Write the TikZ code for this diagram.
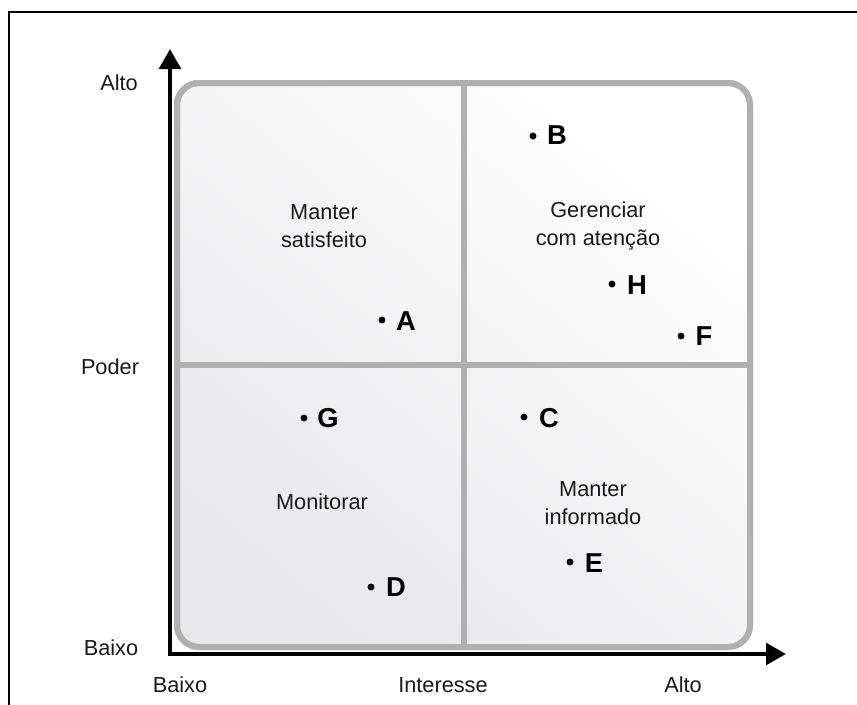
\documentclass[tikz,border=0pt]{standalone}
\usepackage{fontspec}
\setmainfont{Liberation Sans}
\usetikzlibrary{arrows.meta,calc}
\definecolor{boxgray}{RGB}{176,176,176}
\definecolor{fillgray}{RGB}{232,232,235}
\begin{document}
\begin{tikzpicture}[x=0.75pt,y=-0.75pt,
  frameline/.style={line width=1.6pt,black},
  board/.style={rectangle,rounded corners=16.5pt,draw=boxgray,line width=4.5pt,
    minimum width=429.75pt,minimum height=423pt,inner sep=0pt,
    shade,top color=white,bottom color=fillgray,shading angle=-40},
  divider/.style={draw=boxgray,line width=4.5pt},
  axis/.style={line width=3.4pt,black,line join=miter,
    {Triangle[length=15pt,width=16pt]}-{Triangle[length=15pt,width=16pt]}},
  axlabel/.style={font=\fontsize{16.3pt}{20pt}\selectfont,text=black!90,inner sep=0pt},
  quadtext/.style={font=\fontsize{16.3pt}{21pt}\selectfont,text=black!90,align=center,inner sep=0pt},
  dot/.style={circle,fill=black,inner sep=0pt,minimum size=5.2pt},
  ptletter/.style={font=\fontsize{20.5pt}{24pt}\selectfont\bfseries,inner sep=0pt}
]
\useasboundingbox (0,0) rectangle (857,704);
% outer frame
\coordinate (fb) at (9,720);
\coordinate (ftl) at (9,12);
\coordinate (fr) at (870,12);
\draw[frameline] (fb) -- (ftl) -- (fr);
% board
\node[board] (board) at (463.5,365) {};
\draw[divider] (board.north) -- (board.south);
\draw[divider] (board.west) -- (board.east);
\node[rectangle,rounded corners=16.5pt,draw=boxgray,line width=4.5pt,
  minimum width=429.75pt,minimum height=423pt,inner sep=0pt] (boardedge) at (463.5,365) {};
% axes
\coordinate (O) at (170,654);
\coordinate (ytip) at (170,49);
\coordinate (xtip) at (786,654);
\draw[axis] (ytip) -- (O) -- (xtip);
% axis labels
\node[axlabel] (yhigh) at (119,83) {Alto};
\node[axlabel] (ymid) at (110,367) {Poder};
\node[axlabel] (ylow) at (111,648) {Baixo};
\node[axlabel] (xlow) at (180,685) {Baixo};
\node[axlabel] (xmid) at (443,685) {Interesse};
\node[axlabel] (xhigh) at (683,685) {Alto};
% quadrant texts
\node[quadtext] (q1) at (324,226) {Manter\\satisfeito};
\node[quadtext] (q2) at (598,226) {Gerenciar\\com atenção};
\node[quadtext] (q3) at (322,502) {Monitorar};
\node[quadtext] (q4) at (593,503) {Manter\\informado};
% points
\node[dot] (A) at (382,320) {};
\node[ptletter] (Al) at (406,321) {A};
\node[dot] (B) at (533,136) {};
\node[ptletter] (Bl) at (557,135) {B};
\node[dot] (H) at (612,284) {};
\node[ptletter] (Hl) at (637,285) {H};
\node[dot] (F) at (681,336) {};
\node[ptletter] (Fl) at (704,336) {F};
\node[dot] (G) at (304,418) {};
\node[ptletter] (Gl) at (328,418) {G};
\node[dot] (C) at (524,417) {};
\node[ptletter] (Cl) at (549,418) {C};
\node[dot] (D) at (371,587) {};
\node[ptletter] (Dl) at (396,587) {D};
\node[dot] (E) at (570,562) {};
\node[ptletter] (El) at (594,563) {E};
\end{tikzpicture}
\end{document}
